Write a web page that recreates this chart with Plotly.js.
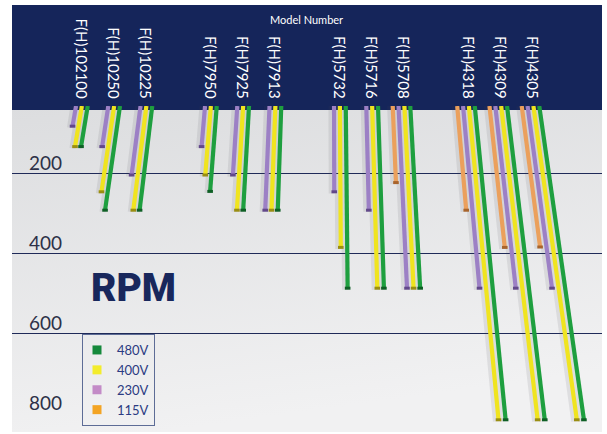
<!DOCTYPE html>
<html>
<head>
<meta charset="utf-8">
<script src="https://cdn.plot.ly/plotly-3.0.1.min.js"></script>
<style>
  html, body { margin: 0; padding: 0; background: #ffffff; }
  #chart { width: 607px; height: 434px; }
</style>
</head>
<body>
<div id="chart"></div>
<script>
// ---------------- data ----------------
const models = ['F(H)102100', 'F(H)10250', 'F(H)10225', 'F(H)7950', 'F(H)7925', 'F(H)7913',
                'F(H)5732', 'F(H)5716', 'F(H)5708', 'F(H)4318', 'F(H)4309', 'F(H)4305'];
const rpm480 = [133, 292, 292, 245, 292, 292, 487, 487, 487, 816, 816, 816];
const rpm400 = [133, 246, 292, 204, 292, 292, 385, 487, 487, 816, 816, 816];
const rpm230 = [82, 133, 204, 133, 204, 292, 246, 292, 487, 487, 487, 487];
const rpm115 = [null, null, null, null, null, null, null, null, 223, 292, 385, 384];
const yTicks = [200, 400, 600, 800];
const gridTicks = [200, 400, 600];

// ---------------- styling / geometry ----------------
const Y_TOP = 31.5, Y_BOTTOM = 846.5;      // axis range (reversed)
const UC = 7.89, DEPTH = 3665;             // perspective vanishing point
const pos = models.map((m, i) => i + Math.floor(i / 3));   // groups of three models

const series = [
  {name: '480V', vals: rpm480, color: '#1e9f3f', cap: '#0e5f25', legend: '#15893b', off: 0.363},
  {name: '400V', vals: rpm400, color: '#f0e41f', cap: '#9a8e12', legend: '#f3ec2c', off: 0.181},
  {name: '230V', vals: rpm230, color: '#9c80c5', cap: '#62488a', legend: '#c38bc7', off: 0.0},
  {name: '115V', vals: rpm115, color: '#eba05c', cap: '#a8642c', legend: '#f3a424', off: -0.181}
];

function barGeom(s) {
  const xs = [], ys = [], cx = [], cy = [], sx = [], sy = [];
  s.vals.forEach((v, i) => {
    if (v === null) return;
    const x0 = pos[i] + s.off;
    const x1 = x0 + (x0 - UC) * (v - Y_TOP) / DEPTH;
    xs.push(x0, x1, null); ys.push(Y_TOP, v, null);
    sx.push(x0 - 0.08, x1 - 0.08, null); sy.push(Y_TOP, v + 4, null);
    cx.push(x1); cy.push(v);
  });
  return {xs, ys, cx, cy, sx, sy};
}

const traces = [];
const geoms = series.map(barGeom);
// soft shadows
series.forEach((s, k) => {
  traces.push({x: geoms[k].sx, y: geoms[k].sy, type: 'scatter', mode: 'lines',
    line: {color: 'rgba(70,70,85,0.11)', width: 6}, hoverinfo: 'skip', showlegend: false});
});
// bars
series.forEach((s, k) => {
  traces.push({x: geoms[k].xs, y: geoms[k].ys, type: 'scatter', mode: 'lines', name: s.name,
    line: {color: s.color, width: 4.2}, showlegend: false});
  traces.push({x: geoms[k].cx, y: geoms[k].cy, type: 'scatter', mode: 'markers',
    marker: {symbol: 'line-ew', size: 4, line: {color: s.cap, width: 3}},
    hoverinfo: 'skip', showlegend: false});
});
// legend entries
series.forEach(s => {
  traces.push({x: [null], y: [null], type: 'scatter', mode: 'markers', name: s.name,
    marker: {symbol: 'square', size: 9, color: s.legend}, showlegend: true, yaxis: 'y2'});
});

const H = 326, PB = 432;
const py = p => (PB - p) / H;
const px = p => (p - 12) / 590;

const gradSvg = "<svg xmlns='http://www.w3.org/2000/svg' width='100' height='100' preserveAspectRatio='none'>" +
  "<defs><linearGradient id='g' x1='0' y1='0' x2='0.25' y2='1'>" +
  "<stop offset='0' stop-color='#dcdddf'/><stop offset='1' stop-color='#f1f1f2'/></linearGradient></defs>" +
  "<rect width='100' height='100' fill='url(#g)'/></svg>";

const layout = {
  width: 607, height: 434,
  margin: {l: 12, r: 5, t: 106, b: 2, pad: 0, autoexpand: false},
  paper_bgcolor: '#ffffff',
  plot_bgcolor: '#e6e7e9',
  showlegend: true,
  font: {family: 'Lato, "Open Sans", sans-serif'},
  xaxis: {
    range: [(12 - 76.05) / 32.25, (602 - 76.05) / 32.25],
    side: 'top',
    tickmode: 'array',
    tickvals: pos.map(p => p + 0.14),
    ticktext: models,
    tickangle: 90,
    ticks: '',
    ticklabelstandoff: 4,
    tickfont: {family: 'Lato, sans-serif', size: 15, color: '#ffffff'},
    showgrid: false, zeroline: false, showline: false, fixedrange: true
  },
  yaxis: {
    range: [Y_BOTTOM, Y_TOP],
    tickmode: 'array', tickvals: gridTicks,
    showticklabels: false, ticks: '',
    showgrid: true, gridcolor: '#1f2a58', gridwidth: 1.4,
    zeroline: false, showline: false, fixedrange: true
  },
  yaxis2: {
    range: [Y_BOTTOM, Y_TOP],
    overlaying: 'y', side: 'left',
    tickmode: 'array', tickvals: yTicks,
    ticks: '',
    ticklabelposition: 'inside',
    ticklabelstandoff: 14,
    ticklabelshift: 10,
    tickfont: {family: 'Lato, sans-serif', size: 19, color: '#2d3048'},
    showgrid: false, zeroline: false, showline: false, fixedrange: true
  },
  legend: {
    x: px(82), y: py(334), xanchor: 'left', yanchor: 'top',
    bgcolor: 'rgba(0,0,0,0)', bordercolor: '#5d6c96', borderwidth: 1,
    font: {family: 'Lato, sans-serif', size: 13, color: '#2b3b82'},
    traceorder: 'normal', itemclick: false, itemdoubleclick: false,
    indentation: -6, tracegroupgap: 0
  },
  images: [{
    source: 'data:image/svg+xml;charset=utf-8,' + encodeURIComponent(gradSvg),
    xref: 'paper', yref: 'paper', x: 0, y: 1, sizex: 1, sizey: 1,
    xanchor: 'left', yanchor: 'top', sizing: 'stretch', layer: 'below'
  }],
  shapes: [{
    type: 'rect', xref: 'paper', yref: 'paper',
    x0: 0, x1: 1, y0: py(110), y1: py(5),
    fillcolor: '#15255a', line: {width: 0}, layer: 'below'
  }],
  annotations: [
    {text: 'Model Number', xref: 'paper', yref: 'paper', x: px(306.5), y: py(19),
     xanchor: 'center', yanchor: 'middle', showarrow: false,
     font: {family: 'Lato, sans-serif', size: 11, color: '#ffffff'}},
    {text: 'RPM', xref: 'paper', yref: 'paper', x: px(89), y: py(288),
     xanchor: 'left', yanchor: 'middle', showarrow: false,
     font: {family: 'Roboto, "Liberation Sans", sans-serif', size: 39, weight: 900, color: '#18275c'}}
  ]
};

Plotly.newPlot('chart', traces, layout, {displayModeBar: false, staticPlot: true});
</script>
</body>
</html>
